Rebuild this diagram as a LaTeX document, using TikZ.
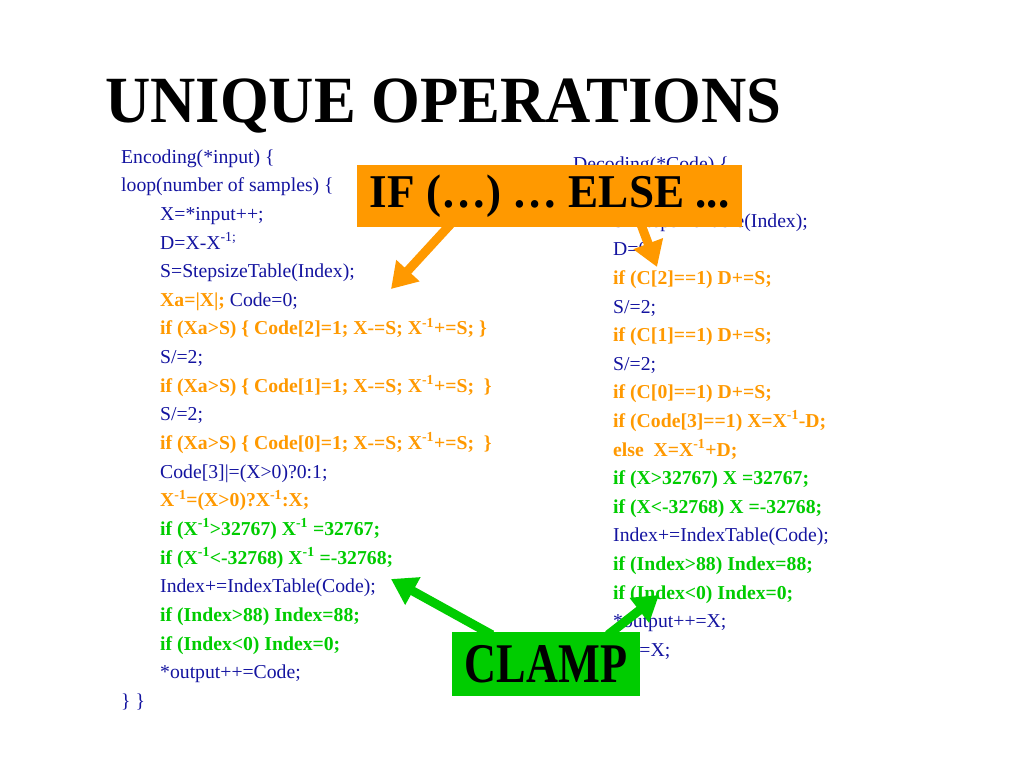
\documentclass[tikz,border=0pt]{standalone}
\usepackage{fontspec}
\setmainfont{Liberation Serif}
\usetikzlibrary{arrows.meta}

\definecolor{codeblue}{RGB}{20,20,160}
\definecolor{tagorange}{RGB}{255,153,0}
\definecolor{taggreen}{RGB}{0,204,0}

\tikzset{
  codeline/.style={anchor=base west,inner sep=0pt,text=codeblue,font=\fontsize{19.7}{20}\selectfont},
  hotline/.style={codeline,text=tagorange,font=\fontsize{19.7}{20}\selectfont\bfseries},
  clampline/.style={codeline,text=taggreen,font=\fontsize{19.7}{20}\selectfont\bfseries},
  tagbox/.style={rectangle,inner sep=0pt,text=black,font=\bfseries},
  pointer/.style={line width=9pt,-{Triangle[length=25pt,width=30pt]}}
}
\newcommand{\mi}{\textsuperscript{-1}}

\begin{document}
\begin{tikzpicture}[x=1pt,y=-1pt]
        \useasboundingbox (0,0) rectangle (1024,768);
        \fill[white] (0,0) rectangle (1024,768);
        %% Title
        \node[anchor=base west,inner sep=0pt,font=\fontsize{66}{70}\selectfont\bfseries] (title) at (105,122) {\scalebox{0.95}[1]{UNIQUE OPERATIONS}};
        %% Encoder
        \node[codeline] (e1) at (121,163) {Encoding(*input) \{};
        \node[codeline] (e2) at (121,191.6) {loop(number of samples) \{};
        \node[codeline] (e3) at (160,220.3) {X=*input++;};
        \node[codeline] (e4) at (160,249) {D=X-X\textsuperscript{-1;}};
        \node[codeline] (e5) at (160,277.6) {S=StepsizeTable(Index);};
        \node[codeline] (e6) at (160,306.3) {\textcolor{tagorange}{\bfseries Xa=|X|;} Code=0;};
        \node[hotline] (e7) at (160,334.9) {if (Xa>S) \{ Code[2]=1; X-=S; X\mi+=S; \}};
        \node[codeline] (e8) at (160,363.6) {S/=2;};
        \node[hotline] (e9) at (160,392.2) {if (Xa>S) \{ Code[1]=1; X-=S; X\mi+=S;\ \ \}};
        \node[codeline] (e10) at (160,420.9) {S/=2;};
        \node[hotline] (e11) at (160,449.5) {if (Xa>S) \{ Code[0]=1; X-=S; X\mi+=S;\ \ \}};
        \node[codeline] (e12) at (160,478.2) {Code[3]|=(X>0)?0:1;};
        \node[hotline] (e13) at (160,506.8) {X\mi=(X>0)?X\mi:X;};
        \node[clampline] (e14) at (160,535.5) {if (X\mi>32767) X\mi\ =32767;};
        \node[clampline] (e15) at (160,564.1) {if (X\mi<-32768) X\mi\ =-32768;};
        \node[codeline] (e16) at (160,592.8) {Index+=IndexTable(Code);};
        \node[clampline] (e17) at (160,621.4) {if (Index>88) Index=88;};
        \node[clampline] (e18) at (160,650.1) {if (Index<0) Index=0;};
        \node[codeline] (e19) at (160,678.7) {*output++=Code;};
        \node[codeline] (e20) at (121,707.4) {\} \}};
        %% Decoder
        \node[codeline] (d1) at (573,170) {Decoding(*Code) \{};
        \node[codeline] (d3) at (613,227.2) {S=StepsizeTable(Index);};
        \node[codeline] (d4) at (613,255.8) {D=0;};
        \node[hotline] (d5) at (613,284.4) {if (C[2]==1) D+=S;};
        \node[codeline] (d6) at (613,313) {S/=2;};
        \node[hotline] (d7) at (613,341.6) {if (C[1]==1) D+=S;};
        \node[codeline] (d8) at (613,370.2) {S/=2;};
        \node[hotline] (d9) at (613,398.8) {if (C[0]==1) D+=S;};
        \node[hotline] (d10) at (613,427.4) {if (Code[3]==1) X=X\mi-D;};
        \node[hotline] (d11) at (613,456) {else\ \ X=X\mi+D;};
        \node[clampline] (d12) at (613,484.6) {if (X>32767) X =32767;};
        \node[clampline] (d13) at (613,513.2) {if (X<-32768) X =-32768;};
        \node[codeline] (d14) at (613,541.8) {Index+=IndexTable(Code);};
        \node[clampline] (d15) at (613,570.4) {if (Index>88) Index=88;};
        \node[clampline] (d16) at (613,599) {if (Index<0) Index=0;};
        \node[codeline] (d17) at (613,627.6) {*output++=X;};
        \node[codeline] (d18) at (613,656.2) {X\mi=X;};
        %% Tags
        \node[tagbox,fill=tagorange,minimum width=385pt,minimum height=62pt,font=\fontsize{47}{50}\selectfont\bfseries] (ifbox) at (549.5,196) {\scalebox{0.96}[1]{IF (…) … ELSE ...}};
        \node[tagbox,fill=taggreen,minimum width=188pt,minimum height=64pt,font=\fontsize{56}{60}\selectfont\bfseries] (clampbox) at (546,664) {\scalebox{0.79}[1]{CLAMP}};
        %% Pointers
        \coordinate (ifL) at (391,289);
        \coordinate (ifR) at (657,267);
        \coordinate (clL) at (391,579);
        \coordinate (clR) at (659,595);
        \draw[pointer,tagorange] ([xshift=-98pt,yshift=4pt]ifbox.south) -- (ifL);
        \draw[pointer,tagorange] ([xshift=91pt,yshift=4pt]ifbox.south) -- (ifR);
        \draw[pointer,taggreen] ([xshift=-54pt,yshift=-3pt]clampbox.north) -- (clL);
        \draw[pointer,taggreen] ([xshift=62pt,yshift=-3pt]clampbox.north) -- (clR);
    \end{tikzpicture}
\end{document}
